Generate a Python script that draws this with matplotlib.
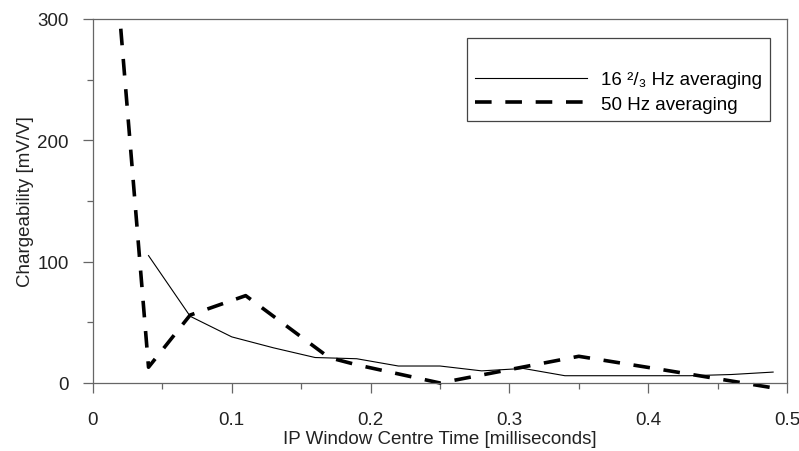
import matplotlib
matplotlib.use("Agg")
import matplotlib.pyplot as plt
from matplotlib.ticker import MultipleLocator

# 16 2/3 Hz averaging (thin solid)
t_16 = [0.04, 0.07, 0.10, 0.13, 0.16, 0.19, 0.22, 0.25, 0.28, 0.31, 0.34, 0.37, 0.40, 0.43, 0.46, 0.49]
m_16 = [105, 55, 38, 29, 21, 20, 14, 14, 10, 12, 6, 6, 6, 6, 7, 9]

# 50 Hz averaging (thick dashed)
t_50 = [0.02, 0.04, 0.07, 0.11, 0.17, 0.19, 0.25, 0.35, 0.41, 0.49]
m_50 = [292, 13, 56, 72, 21, 15, 0, 22, 11, -4]

label_16 = "16 \u00b2/\u2083 Hz averaging"
label_50 = "50 Hz averaging"

plt.rcParams["font.family"] = ["Liberation Sans", "DejaVu Sans"]
axcol = "#666666"
fs = 13.5

fig = plt.figure(figsize=(7.99, 4.52), dpi=100)
ax = fig.add_axes([93/799, 1-384/452, (787-93)/799, (384-20)/452])

ax.plot(t_16, m_16, color="black", lw=0.8, label=label_16)
ax.plot(t_50, m_50, color="black", lw=2.6, dashes=(4.6, 3.8), label=label_50, clip_on=False)

ax.set_xlim(0, 0.5)
ax.set_ylim(0, 300)
ax.xaxis.set_major_locator(MultipleLocator(0.1))
ax.xaxis.set_minor_locator(MultipleLocator(0.05))
ax.yaxis.set_major_locator(MultipleLocator(100))
ax.yaxis.set_minor_locator(MultipleLocator(50))
ax.xaxis.set_major_formatter(plt.FuncFormatter(lambda v, p: "0" if abs(v) < 1e-9 else f"{v:g}"))

for s in ax.spines.values():
    s.set_color(axcol)
    s.set_linewidth(0.9)
ax.tick_params(which="major", length=7.5, width=0.9, color=axcol, labelsize=fs, labelcolor="#222222")
ax.tick_params(which="minor", length=4, width=0.9, color=axcol)
ax.tick_params(axis="y", which="major", pad=10)
ax.tick_params(axis="x", which="major", pad=13)

ax.set_xlabel("IP Window Centre Time [milliseconds]", fontsize=fs, color="#222222", labelpad=1)
ax.set_ylabel("Chargeability [mV/V]", fontsize=fs, color="#222222", labelpad=2)

leg = ax.legend(loc="upper right", bbox_to_anchor=(1 - 17/694, 1 - 19/364), fontsize=fs,
                title=" ", title_fontsize=fs, handlelength=6.0, handletextpad=0.7,
                labelspacing=0.4, borderpad=0.45, borderaxespad=0, fancybox=False, framealpha=1)
leg.get_frame().set_edgecolor("#444444")
leg.get_frame().set_linewidth(0.9)

fig.savefig("out.png", dpi=100)
